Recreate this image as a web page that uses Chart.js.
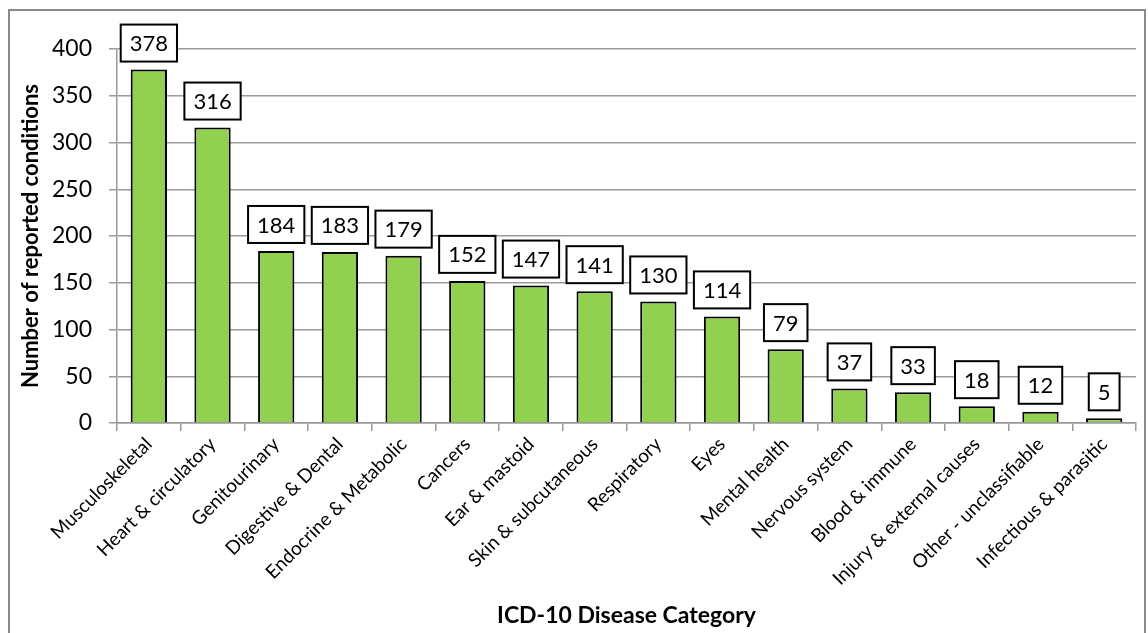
<!DOCTYPE html>
<html>
<head>
<meta charset="utf-8">
<script src="https://cdn.jsdelivr.net/npm/chart.js@4"></script>
<style>
  html, body { margin: 0; padding: 0; background: #fff; }
  #wrap { position: relative; width: 1148px; height: 633px; }
</style>
</head>
<body>
<div id="wrap"><canvas id="chart"></canvas></div>
<script>
// ICD-10 categories and counts
const categories = [
  'Musculoskeletal', 'Heart & circulatory', 'Genitourinary', 'Digestive & Dental',
  'Endocrine & Metabolic', 'Cancers', 'Ear & mastoid', 'Skin & subcutaneous',
  'Respiratory', 'Eyes', 'Mental health', 'Nervous system', 'Blood & immune',
  'Injury & external causes', 'Other - unclassifiable', 'Infectious & parasitic'
];
const counts = [378, 316, 184, 183, 179, 152, 147, 141, 130, 114, 79, 37, 33, 18, 12, 5];
const yTicks = [0, 50, 100, 150, 200, 250, 300, 350, 400];

const FONT = 'Lato, "Open Sans", sans-serif';

// frame around the whole chart
const framePlugin = {
  id: 'frame',
  beforeDraw(chart) {
    const ctx = chart.ctx;
    ctx.save();
    ctx.strokeStyle = '#8a8a8a';
    ctx.lineWidth = 2;
    ctx.strokeRect(9, 10, 1136, 640);
    ctx.restore();
  }
};

// boxed value labels above each bar
const boxLabels = {
  id: 'boxLabels',
  afterDatasetsDraw(chart) {
    const ctx = chart.ctx;
    const meta = chart.getDatasetMeta(0);
    ctx.save();
    ctx.font = '22px ' + FONT;
    ctx.textAlign = 'center';
    ctx.textBaseline = 'middle';
    meta.data.forEach((bar, i) => {
      const txt = String(counts[i]);
      const w = ctx.measureText(txt).width + 18;
      const h = 37;
      const x = bar.x - w / 2;
      const y = bar.y - 8 - h;
      ctx.fillStyle = '#fff';
      ctx.fillRect(x, y, w, h);
      ctx.strokeStyle = '#000';
      ctx.lineWidth = 2;
      ctx.strokeRect(x, y, w, h);
      ctx.fillStyle = '#000';
      ctx.fillText(txt, bar.x, y + h / 2 + 1);
    });
    ctx.restore();
  }
};

new Chart(document.getElementById('chart'), {
  type: 'bar',
  data: {
    labels: categories,
    datasets: [{
      data: counts,
      backgroundColor: '#92D050',
      borderColor: '#000',
      borderWidth: 2,
      barPercentage: 0.57,
      categoryPercentage: 1
    }]
  },
  options: {
    responsive: true,
    maintainAspectRatio: false,
    animation: false,
    layout: { padding: { left: 18, top: 49, right: 12, bottom: 4 } },
    plugins: {
      legend: { display: false },
      tooltip: { enabled: false }
    },
    scales: {
      x: {
        afterFit(scale) { scale.height = 206; },
        grid: {
          offset: true,
          drawOnChartArea: false,
          drawTicks: true,
          tickLength: 8,
          color: '#9a9a9a',
          lineWidth: 1.5
        },
        border: { color: '#9a9a9a', width: 1.5 },
        ticks: {
          color: '#000',
          font: { family: FONT, size: 19 },
          maxRotation: 45,
          minRotation: 45,
          autoSkip: false,
          padding: 2
        },
        title: {
          display: true,
          text: 'ICD-10 Disease Category',
          color: '#000',
          font: { family: FONT, size: 23, weight: 'bold' },
          padding: { top: 0, bottom: 0 }
        }
      },
      y: {
        min: 0,
        max: 400,
        afterFit(scale) { scale.width = 99; },
        afterBuildTicks(scale) { scale.ticks = yTicks.map(v => ({ value: v })); },
        grid: {
          color: '#9a9a9a',
          lineWidth: 1.5,
          tickLength: 8
        },
        border: { color: '#9a9a9a', width: 1.5 },
        ticks: {
          color: '#000',
          font: { family: FONT, size: 23 },
          padding: 17
        },
        title: {
          display: true,
          text: 'Number of reported conditions',
          color: '#000',
          font: { family: FONT, size: 22, weight: 'bold' },
          padding: { top: 0, bottom: 0 }
        }
      }
    }
  },
  plugins: [framePlugin, boxLabels]
});
</script>
</body>
</html>
